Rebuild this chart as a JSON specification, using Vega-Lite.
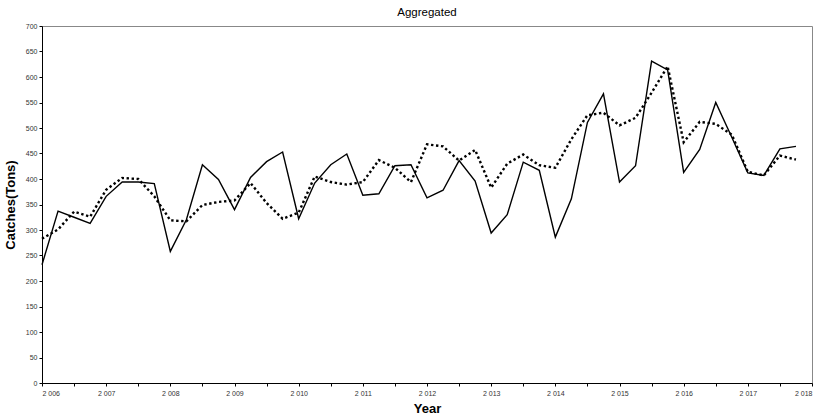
{
  "$schema": "https://vega.github.io/schema/vega-lite/v6.json",
  "autosize": "none",
  "padding": {"left": 42, "top": 26, "right": 11, "bottom": 31},
  "width": 770,
  "height": 357,
  "background": "white",
  "title": {"text": "Aggregated", "font": "Liberation Sans", "fontSize": 11.5, "fontWeight": "normal", "color": "#000", "offset": 4},
  "config": {
    "view": {"stroke": "#888", "strokeWidth": 1},
    "axis": {"labelFont": "Liberation Sans", "titleFont": "Liberation Sans", "grid": false, "domainColor": "#000", "tickColor": "#000", "labelColor": "#333", "labelFontSize": 7, "titleFontSize": 13, "titleFontWeight": "bold", "titleColor": "#000", "tickSize": 3}
  },
  "data": {"values": [
    {"t": 2006.0, "actual": 232, "fitted": 283},
    {"t": 2006.25, "actual": 337, "fitted": 301},
    {"t": 2006.5, "actual": 325, "fitted": 336},
    {"t": 2006.75, "actual": 313, "fitted": 326},
    {"t": 2007.0, "actual": 366, "fitted": 379},
    {"t": 2007.25, "actual": 394, "fitted": 402},
    {"t": 2007.5, "actual": 394, "fitted": 400},
    {"t": 2007.75, "actual": 391, "fitted": 366},
    {"t": 2008.0, "actual": 258, "fitted": 319},
    {"t": 2008.25, "actual": 320, "fitted": 317},
    {"t": 2008.5, "actual": 428, "fitted": 349},
    {"t": 2008.75, "actual": 399, "fitted": 355},
    {"t": 2009.0, "actual": 340, "fitted": 358},
    {"t": 2009.25, "actual": 403, "fitted": 392},
    {"t": 2009.5, "actual": 434, "fitted": 353},
    {"t": 2009.75, "actual": 453, "fitted": 322},
    {"t": 2010.0, "actual": 322, "fitted": 334},
    {"t": 2010.25, "actual": 392, "fitted": 405},
    {"t": 2010.5, "actual": 428, "fitted": 394},
    {"t": 2010.75, "actual": 449, "fitted": 389},
    {"t": 2011.0, "actual": 368, "fitted": 394},
    {"t": 2011.25, "actual": 371, "fitted": 437},
    {"t": 2011.5, "actual": 426, "fitted": 422},
    {"t": 2011.75, "actual": 428, "fitted": 394},
    {"t": 2012.0, "actual": 363, "fitted": 468},
    {"t": 2012.25, "actual": 378, "fitted": 464},
    {"t": 2012.5, "actual": 436, "fitted": 436},
    {"t": 2012.75, "actual": 396, "fitted": 457},
    {"t": 2013.0, "actual": 294, "fitted": 383},
    {"t": 2013.25, "actual": 330, "fitted": 430},
    {"t": 2013.5, "actual": 433, "fitted": 448},
    {"t": 2013.75, "actual": 417, "fitted": 427},
    {"t": 2014.0, "actual": 286, "fitted": 422},
    {"t": 2014.25, "actual": 361, "fitted": 478},
    {"t": 2014.5, "actual": 511, "fitted": 525},
    {"t": 2014.75, "actual": 567, "fitted": 530},
    {"t": 2015.0, "actual": 394, "fitted": 505},
    {"t": 2015.25, "actual": 426, "fitted": 520},
    {"t": 2015.5, "actual": 631, "fitted": 569},
    {"t": 2015.75, "actual": 614, "fitted": 621},
    {"t": 2016.0, "actual": 413, "fitted": 472},
    {"t": 2016.25, "actual": 458, "fitted": 512},
    {"t": 2016.5, "actual": 550, "fitted": 508},
    {"t": 2016.75, "actual": 482, "fitted": 487},
    {"t": 2017.0, "actual": 412, "fitted": 414},
    {"t": 2017.25, "actual": 407, "fitted": 407},
    {"t": 2017.5, "actual": 459, "fitted": 446},
    {"t": 2017.75, "actual": 464, "fitted": 438}
  ]},
  "encoding": {
    "x": {"field": "t", "type": "quantitative", "scale": {"domain": [2006, 2018], "nice": false, "zero": false},
      "axis": {"title": "Year", "titleY": 29, "titleBaseline": "alphabetic", "labelOverlap": false, "values": [2006, 2006.5, 2007, 2007.5, 2008, 2008.5, 2009, 2009.5, 2010, 2010.5, 2011, 2011.5, 2012, 2012.5, 2013, 2013.5, 2014, 2014.5, 2015, 2015.5, 2016, 2016.5, 2017, 2017.5, 2018],
        "labelExpr": "datum.value % 1 === 0 ? substring(toString(datum.value), 0, 1) + ' ' + substring(toString(datum.value), 1) : ''", "labelPadding": 3}}
  },
  "layer": [
    {"mark": {"type": "line", "color": "#000", "strokeWidth": 2.4, "strokeDash": [2.4, 2.6]},
     "encoding": {"y": {"field": "fitted", "type": "quantitative", "scale": {"domain": [0, 700], "nice": false},
       "axis": {"title": "Catches(Tons)", "labelOverlap": false, "values": [0, 50, 100, 150, 200, 250, 300, 350, 400, 450, 500, 550, 600, 650, 700], "titleX": -25, "labelPadding": 2}}}},
    {"mark": {"type": "line", "color": "#000", "strokeWidth": 1.4},
     "encoding": {"y": {"field": "actual", "type": "quantitative", "scale": {"domain": [0, 700], "nice": false},
       "axis": {"title": "Catches(Tons)", "labelOverlap": false, "values": [0, 50, 100, 150, 200, 250, 300, 350, 400, 450, 500, 550, 600, 650, 700], "titleX": -25, "labelPadding": 2}}}}
  ]
}
